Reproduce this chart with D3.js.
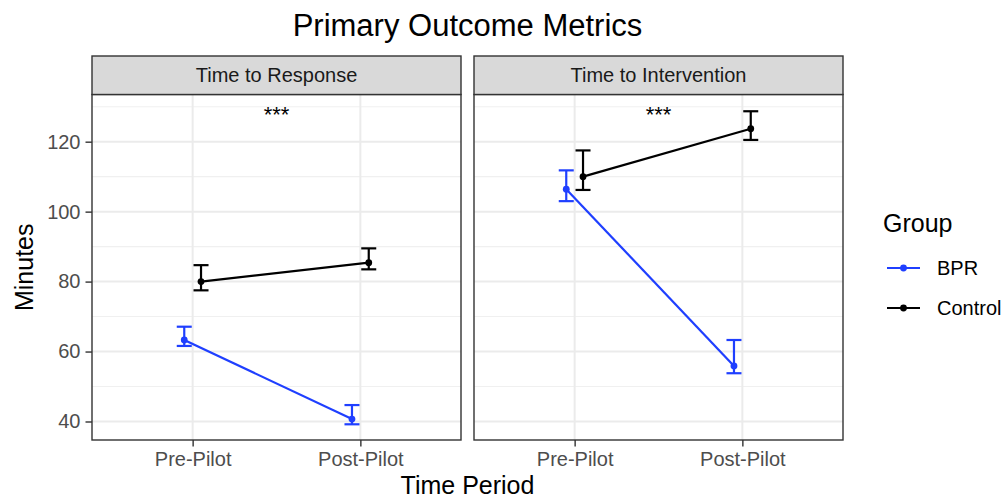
<!DOCTYPE html>
<html lang="en">
<head>
  <meta charset="UTF-8" />
  <title>Primary Outcome Metrics</title>
  <script src="https://d3js.org/d3.v7.min.js"></script>
  <style>
    body {
      margin: 0;
      background: #fff;
      font-family: "Liberation Sans", Arial, Helvetica, sans-serif;
    }
    svg { display: block; }
    .tick-label { fill: #4d4d4d; font-size: 20px; }
    .strip-label { fill: #1a1a1a; font-size: 20px; }
  </style>
</head>
<body>
  <svg id="chart" width="1007" height="500"></svg>

  <script>
    const periods = ["Pre-Pilot", "Post-Pilot"];
    const metrics = ["Time to Response", "Time to Intervention"];
    const groups = ["BPR", "Control"];

    // mean minutes, [Pre, Post]
    const responseBPR = [63.3, 40.7];
    const responseBPRLow = [61.6, 39.2];
    const responseBPRHigh = [67.1, 44.7];
    const responseControl = [80.0, 85.4];
    const responseControlLow = [77.5, 83.5];
    const responseControlHigh = [84.7, 89.5];

    const interventionBPR = [106.4, 55.9];
    const interventionBPRLow = [103.0, 53.8];
    const interventionBPRHigh = [111.8, 63.3];
    const interventionControl = [110.0, 123.7];
    const interventionControlLow = [106.2, 120.5];
    const interventionControlHigh = [117.5, 128.7];

    const sigLabels = ["***", "***"];
    const sigValue = 129;
    const yTicks = [40, 60, 80, 100, 120];
    const yMinorTicks = [50, 70, 90, 110, 130];

    const groupColors = { "BPR": "#1f3fff", "Control": "#000000" };
    const dodge = { "BPR": -0.05, "Control": 0.05 };

    // build rows for each panel
    const panels = [
      {
        metric: metrics[0],
        series: [
          { group: "BPR", mean: responseBPR, low: responseBPRLow, high: responseBPRHigh },
          { group: "Control", mean: responseControl, low: responseControlLow, high: responseControlHigh }
        ]
      },
      {
        metric: metrics[1],
        series: [
          { group: "BPR", mean: interventionBPR, low: interventionBPRLow, high: interventionBPRHigh },
          { group: "Control", mean: interventionControl, low: interventionControlLow, high: interventionControlHigh }
        ]
      }
    ];

    const svg = d3.select("#chart");

    const panelTop = 94.5, panelBottom = 440;
    const stripTop = 56;
    const panelLefts = [92, 474];
    const panelWidth = 369;

    // y domain like ggplot: data range + 5% each side
    const allVals = panels.flatMap(p => p.series.flatMap(s => s.low.concat(s.high))).concat([sigValue]);
    const yMin = d3.min(allVals), yMax = d3.max(allVals);
    const pad = (yMax - yMin) * 0.05;
    const y = d3.scaleLinear().domain([yMin - pad, yMax + pad]).range([panelBottom, panelTop]);

    // title
    svg.append("text")
      .attr("x", (panelLefts[0] + panelLefts[1] + panelWidth) / 2)
      .attr("y", 36)
      .attr("text-anchor", "middle")
      .attr("font-size", 31)
      .attr("fill", "#000")
      .text("Primary Outcome Metrics");

    panels.forEach((panel, i) => {
      const left = panelLefts[i];
      const x = d3.scalePoint().domain(periods).range([left, left + panelWidth]).padding(0.6);
      const step = x.step();
      const g = svg.append("g");

      // grid
      g.selectAll("line.minor")
        .data(yMinorTicks.filter(v => y(v) > panelTop))
        .join("line")
        .attr("x1", left).attr("x2", left + panelWidth)
        .attr("y1", d => y(d)).attr("y2", d => y(d))
        .attr("stroke", "#f0f0f0").attr("stroke-width", 1.1);

      g.selectAll("line.major")
        .data(yTicks)
        .join("line")
        .attr("x1", left).attr("x2", left + panelWidth)
        .attr("y1", d => y(d)).attr("y2", d => y(d))
        .attr("stroke", "#ebebeb").attr("stroke-width", 2);

      g.selectAll("line.vgrid")
        .data(periods)
        .join("line")
        .attr("x1", d => x(d)).attr("x2", d => x(d))
        .attr("y1", panelTop).attr("y2", panelBottom)
        .attr("stroke", "#ebebeb").attr("stroke-width", 2);

      // significance marker
      g.append("text")
        .attr("x", (x(periods[0]) + x(periods[1])) / 2)
        .attr("y", y(sigValue))
        .attr("dy", "0.55em")
        .attr("text-anchor", "middle")
        .attr("font-size", 22)
        .attr("fill", "#000")
        .text(sigLabels[i]);

      panel.series.forEach(s => {
        const col = groupColors[s.group];
        const px = j => x(periods[j]) + dodge[s.group] * step;
        const idx = d3.range(periods.length);

        g.append("path")
          .datum(idx)
          .attr("fill", "none")
          .attr("stroke", col)
          .attr("stroke-width", 2.2)
          .attr("d", d3.line().x(j => px(j)).y(j => y(s.mean[j])));

        // error bars
        idx.forEach(j => {
          const cx = px(j);
          g.append("line")
            .attr("x1", cx).attr("x2", cx)
            .attr("y1", y(s.low[j])).attr("y2", y(s.high[j]))
            .attr("stroke", col).attr("stroke-width", 2.2);
          [s.low[j], s.high[j]].forEach(v => {
            g.append("line")
              .attr("x1", cx - 7.5).attr("x2", cx + 7.5)
              .attr("y1", y(v)).attr("y2", y(v))
              .attr("stroke", col).attr("stroke-width", 2.2);
          });
        });

        g.selectAll(null)
          .data(idx)
          .join("circle")
          .attr("cx", j => px(j))
          .attr("cy", j => y(s.mean[j]))
          .attr("r", 3.4)
          .attr("fill", col);
      });

      // panel border
      g.append("rect")
        .attr("x", left).attr("y", panelTop)
        .attr("width", panelWidth).attr("height", panelBottom - panelTop)
        .attr("fill", "none").attr("stroke", "#333").attr("stroke-width", 1.4);

      // strip
      g.append("rect")
        .attr("x", left).attr("y", stripTop)
        .attr("width", panelWidth).attr("height", panelTop - stripTop)
        .attr("fill", "#d9d9d9").attr("stroke", "#333").attr("stroke-width", 1.4);

      g.append("text")
        .attr("class", "strip-label")
        .attr("x", left + panelWidth / 2)
        .attr("y", (stripTop + panelTop) / 2)
        .attr("dy", "0.35em")
        .attr("text-anchor", "middle")
        .text(panel.metric);

      // x axis
      const xAxis = g.append("g")
        .attr("transform", `translate(0,${panelBottom})`)
        .call(d3.axisBottom(x).tickSize(6.5).tickPadding(5));
      xAxis.select(".domain").remove();
      xAxis.selectAll(".tick line").attr("stroke", "#333").attr("stroke-width", 1.4);
      xAxis.selectAll(".tick text")
        .attr("class", "tick-label")
        .attr("font-size", null)
        .attr("font-family", null);
    });

    // y axis
    const yAxis = svg.append("g")
      .attr("transform", `translate(${panelLefts[0]},0)`)
      .call(d3.axisLeft(y).tickValues(yTicks).tickSize(6.5).tickPadding(5));
    yAxis.select(".domain").remove();
    yAxis.selectAll(".tick line").attr("stroke", "#333").attr("stroke-width", 1.4);
    yAxis.selectAll(".tick text")
      .attr("class", "tick-label")
      .attr("font-size", null)
      .attr("font-family", null);

    // axis titles
    svg.append("text")
      .attr("transform", `translate(33,${(panelTop + panelBottom) / 2}) rotate(-90)`)
      .attr("text-anchor", "middle")
      .attr("font-size", 25)
      .text("Minutes");

    svg.append("text")
      .attr("x", (panelLefts[0] + panelLefts[1] + panelWidth) / 2)
      .attr("y", 494)
      .attr("text-anchor", "middle")
      .attr("font-size", 25)
      .text("Time Period");

    // legend
    const legend = svg.append("g").attr("transform", "translate(883,0)");
    legend.append("text")
      .attr("x", 0).attr("y", 232)
      .attr("font-size", 25)
      .text("Group");

    groups.forEach((grp, k) => {
      const ly = 268 + k * 40;
      legend.append("line")
        .attr("x1", 4).attr("x2", 37)
        .attr("y1", ly).attr("y2", ly)
        .attr("stroke", groupColors[grp]).attr("stroke-width", 2.2);
      legend.append("circle")
        .attr("cx", 20.5).attr("cy", ly).attr("r", 3.4)
        .attr("fill", groupColors[grp]);
      legend.append("text")
        .attr("x", 54).attr("y", ly)
        .attr("dy", "0.35em")
        .attr("font-size", 20)
        .attr("fill", "#000")
        .text(grp);
    });
  </script>
</body>
</html>
